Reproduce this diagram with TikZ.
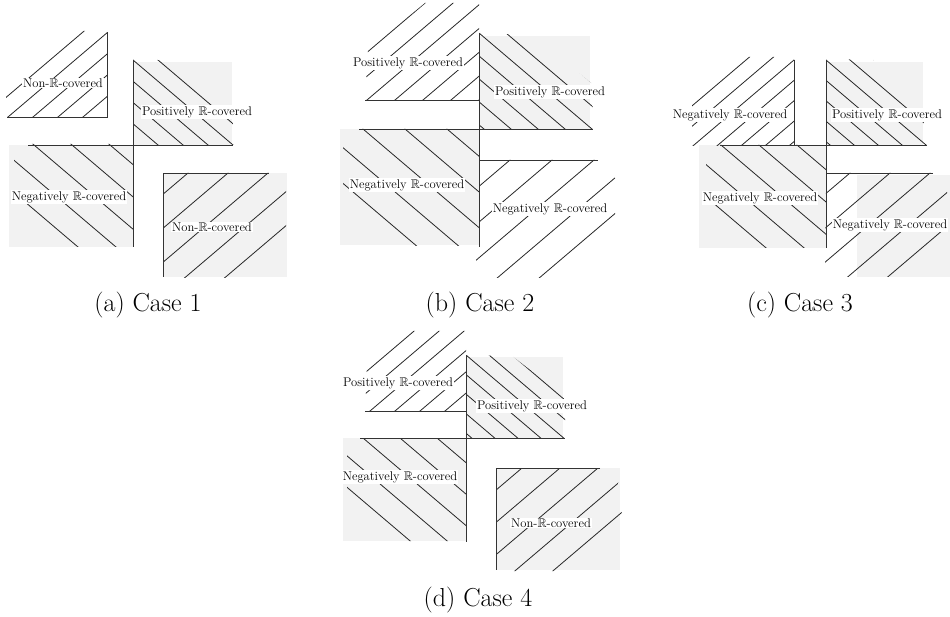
\documentclass[tikz,border=0pt]{standalone}
\usepackage{amssymb}
\definecolor{regiongray}{RGB}{242,242,242}
\tikzset{
  edge/.style={line width=0.9pt, black!80},
  hatchline/.style={line width=0.8pt, black!85},
  shade/.style={fill=regiongray, draw=none},
  lbl/.style={fill=white, inner sep=1pt, font=\fontsize{12.6}{14}\selectfont},
  casetitle/.style={font=\fontsize{26}{30}\selectfont},
}
% hatching "/" : reference point (#1,#2), horizontal spacing #3, clip path #4
\newcommand{\hatchup}[4]{%
  \begin{scope}
    \clip #4;
    \foreach \k in {-12,...,12}
      \draw[hatchline] ({#1+\k*#3-150},{#2+127.5}) -- ({#1+\k*#3+150},{#2-127.5});
  \end{scope}}
% hatching "\" : reference point (#1,#2), horizontal spacing #3, clip path #4
\newcommand{\hatchdown}[4]{%
  \begin{scope}
    \clip #4;
    \foreach \k in {-12,...,12}
      \draw[hatchline] ({#1+\k*#3-150},{#2-127.5}) -- ({#1+\k*#3+150},{#2+127.5});
  \end{scope}}
\begin{document}
\begin{tikzpicture}[x=1pt,y=-1pt]
\useasboundingbox (0,0) rectangle (950,617);

% ---------- (a) Case 1 ----------
\fill[shade] (133,62) rectangle (232,145);
\fill[shade] (9,145) rectangle (133,247);
\fill[shade] (163,173) rectangle (287,277);
\hatchup{8}{117}{25}{(6,117) -- (107,117) -- (107,31) -- (62,31) -- (6,82) -- cycle}
\hatchdown{133}{60}{25}{(133,59) -- (182,61) -- (232,104) -- (234,145) -- (133,145) -- cycle}
\hatchdown{110}{145}{38}{(28,144) -- (133,144) -- (133,247) -- (66,247) -- (14,208) -- (14,158) -- cycle}
\hatchup{228}{173}{40}{(163,173) -- (270,173) -- (286,186) -- (286,228) -- (230,278) -- (163,278) -- cycle}
\draw[edge] (107,32) -- (107,117) -- (7,117);
\draw[edge] (133,60) -- (133,247);
\draw[edge] (28,145) -- (233,145);
\draw[edge] (163,277) -- (163,173) -- (269,173);
\node[lbl] (a1) at (63,83) {Non-$\mathbb{R}$-covered};
\node[lbl] (a2) at (197,112) {Positively $\mathbb{R}$-covered};
\node[lbl] (a3) at (69,197) {Negatively $\mathbb{R}$-covered};
\node[lbl] (a4) at (212,227) {Non-$\mathbb{R}$-covered};
\node[casetitle] (capa) at (148,305) {(a) Case 1};

% ---------- (b) Case 2 ----------
\fill[shade] (479,36) rectangle (590,129);
\fill[shade] (340,129) rectangle (479,245);
\hatchup{367}{100}{28}{(365,100) -- (479,100) -- (479,3) -- (425,3) -- (368,50) -- cycle}
\hatchdown{479}{33}{27}{(479,33) -- (533,35) -- (591,83) -- (594,129) -- (479,129) -- cycle}
\hatchdown{447}{129}{42}{(359,129) -- (479,129) -- (479,246) -- (405,246) -- (343,200) -- (343,147) -- cycle}
\hatchup{552}{160}{42}{(479,160) -- (598,160) -- (615,178) -- (615,218) -- (556,278) -- (476,278) -- (476,247) -- (479,247) -- cycle}
\draw[edge] (365,100) -- (479,100);
\draw[edge] (479,33) -- (479,247);
\draw[edge] (359,129) -- (593,129);
\draw[edge] (479,160) -- (598,160);
\node[lbl] (b1) at (408,63) {Positively $\mathbb{R}$-covered};
\node[lbl] (b2) at (550,92) {Positively $\mathbb{R}$-covered};
\node[lbl] (b3) at (407,185) {Negatively $\mathbb{R}$-covered};
\node[lbl] (b4) at (550,209) {Negatively $\mathbb{R}$-covered};
\node[casetitle] (capb) at (480,305) {(b) Case 2};

% ---------- (c) Case 3 ----------
\fill[shade] (826,62) rectangle (923,145);
\fill[shade] (699,145) rectangle (826,248);
\fill[shade] (857,175) rectangle (950,277);
\hatchup{794}{60}{24}{(692,146) -- (794,146) -- (794,57) -- (742,57) -- (692,100) -- cycle}
\hatchdown{826}{60}{24}{(826,59) -- (873,60) -- (921,103) -- (927,146) -- (826,146) -- cycle}
\hatchdown{797}{145}{38}{(720,145) -- (826,145) -- (826,248) -- (756,248) -- (706,212) -- (706,158) -- cycle}
\hatchup{890}{173}{40}{(826,173) -- (933,173) -- (947,185) -- (947,230) -- (900,277) -- (825,277) -- cycle}
\draw[edge] (794,60) -- (794,145);
\draw[edge] (720,145) -- (927,145);
\draw[edge] (826,60) -- (826,248);
\draw[edge] (826,173) -- (933,173);
\node[lbl] (c1) at (730,115) {Negatively $\mathbb{R}$-covered};
\node[lbl] (c2) at (887,115) {Positively $\mathbb{R}$-covered};
\node[lbl] (c3) at (760,198) {Negatively $\mathbb{R}$-covered};
\node[lbl] (c4) at (890,225) {Negatively $\mathbb{R}$-covered};
\node[casetitle] (capc) at (800,305) {(c) Case 3};

% ---------- (d) Case 4 ----------
\fill[shade] (466,357) rectangle (563,438);
\fill[shade] (343,438) rectangle (466,541);
\fill[shade] (496,468) rectangle (620,570);
\hatchup{395}{411}{25}{(365,411) -- (466,411) -- (466,331) -- (408,331) -- (367,365) -- cycle}
\hatchdown{466}{355}{23}{(466,355) -- (512,356) -- (564,396) -- (566,438) -- (466,438) -- cycle}
\hatchdown{437}{438}{37}{(360,438) -- (466,438) -- (466,541) -- (398,541) -- (347,502) -- (347,452) -- cycle}
\hatchup{560}{468}{38}{(496,468) -- (600,468) -- (618,480) -- (622,515) -- (562,571) -- (496,571) -- cycle}
\draw[edge] (365,411) -- (466,411);
\draw[edge] (466,355) -- (466,542);
\draw[edge] (360,438) -- (565,438);
\draw[edge] (600,468) -- (496,468) -- (496,570);
\node[lbl] (d1) at (398,383) {Positively $\mathbb{R}$-covered};
\node[lbl] (d2) at (532,406) {Positively $\mathbb{R}$-covered};
\node[lbl] (d3) at (400,477) {Negatively $\mathbb{R}$-covered};
\node[lbl] (d4) at (551,523) {Non-$\mathbb{R}$-covered};
\node[casetitle] (capd) at (478,600) {(d) Case 4};
\end{tikzpicture}
\end{document}
